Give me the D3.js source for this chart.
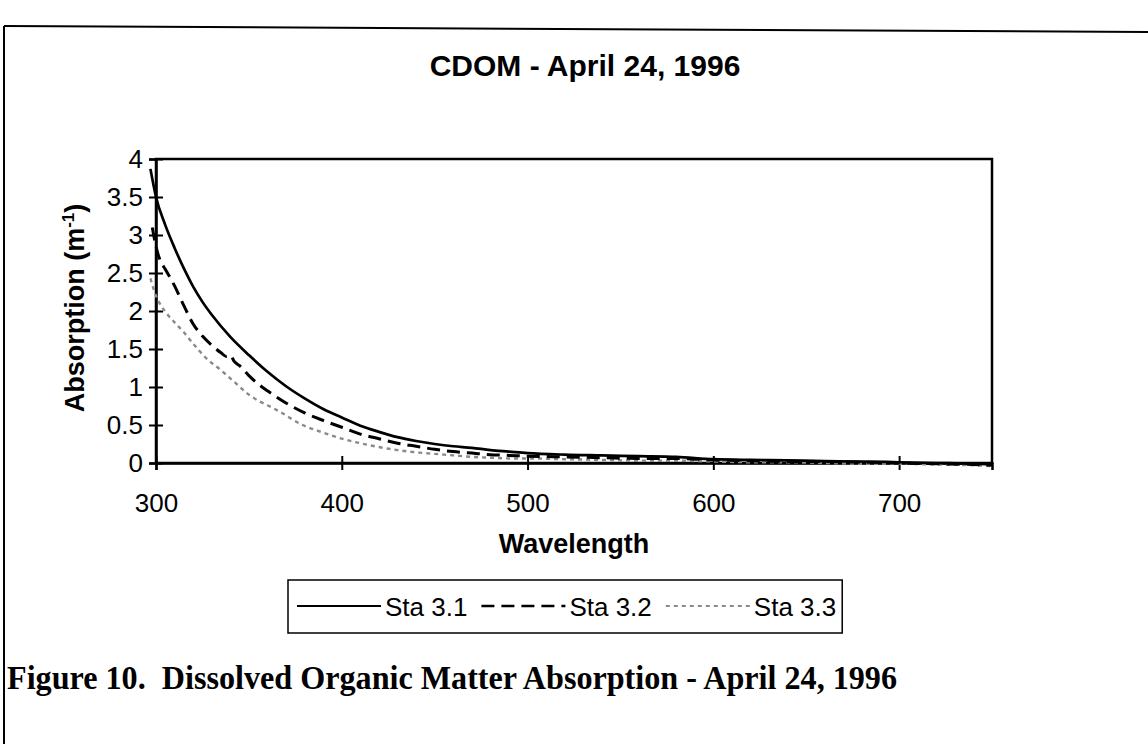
<!DOCTYPE html>
<html>
<head>
<meta charset="utf-8">
<script src="https://cdn.jsdelivr.net/npm/d3@7"></script>
<style>
  body { margin: 0; background: #fff; }
  svg { display: block; }
</style>
</head>
<body>
<div id="chart"></div>
<script>
// values
const wl1 = [297, 300, 305, 310, 315, 320, 325, 330, 340, 350, 360, 370, 380, 390, 400, 410, 420, 430, 440, 450, 460, 470, 480, 490, 500, 520, 540, 560, 580, 600, 620, 640, 660, 680, 700, 720, 740, 750]
const sta31 = [3.87, 3.50, 3.13, 2.83, 2.56, 2.32, 2.12, 1.95, 1.66, 1.42, 1.20, 1.01, 0.85, 0.71, 0.60, 0.49, 0.41, 0.34, 0.29, 0.25, 0.22, 0.20, 0.17, 0.15, 0.13, 0.11, 0.10, 0.09, 0.08, 0.05, 0.04, 0.035, 0.025, 0.02, 0.01, 0.0, -0.01, -0.02]

const wl2 = [298, 300, 302, 305, 310, 315, 320, 325, 330, 335, 338, 340, 342, 345, 350, 355, 360, 370, 380, 390, 400, 410, 420, 430, 440, 450, 460, 470, 480, 490, 500, 520, 540, 560, 580, 600, 620, 640, 660, 680, 700, 720, 740, 750]
const sta32 = [3.10, 2.85, 2.68, 2.55, 2.33, 2.07, 1.83, 1.67, 1.55, 1.45, 1.40, 1.42, 1.34, 1.28, 1.15, 1.04, 0.95, 0.79, 0.66, 0.56, 0.47, 0.38, 0.32, 0.26, 0.22, 0.18, 0.15, 0.13, 0.11, 0.10, 0.09, 0.08, 0.07, 0.06, 0.06, 0.04, 0.03, 0.02, 0.02, 0.01, 0.0, -0.01, -0.02, -0.03]

const wl3 = [297, 300, 302, 306, 310, 315, 320, 327, 335, 342, 350, 355, 360, 367, 378, 390, 400, 410, 420, 430, 440, 450, 460, 470, 480, 490, 500, 520, 540, 560, 580, 600, 620, 640, 660, 680, 700, 720, 740, 750]
const sta33 = [2.43, 2.20, 2.10, 1.96, 1.85, 1.72, 1.57, 1.38, 1.22, 1.07, 0.90, 0.82, 0.76, 0.67, 0.51, 0.40, 0.32, 0.26, 0.21, 0.17, 0.14, 0.12, 0.10, 0.08, 0.07, 0.06, 0.06, 0.05, 0.04, 0.03, 0.03, 0.02, 0.01, 0.01, 0.0, -0.01, -0.01, -0.02, -0.03, -0.04]

const seriesNames = ["Sta 3.1", "Sta 3.2", "Sta 3.3"]
const xTicks = [300, 400, 500, 600, 700]
const yTicks = [0, 0.5, 1, 1.5, 2, 2.5, 3, 3.5, 4]

const width = 1148
const height = 744
const margin = {top: 159, right: 156, bottom: 281, left: 156}
const plotW = width - margin.left - margin.right
const plotH = height - margin.top - margin.bottom

const sans = "'Liberation Sans', Arial, Helvetica, sans-serif"

const svg = d3.select("#chart").append("svg")
    .attr("width", width)
    .attr("height", height)

// page frame (only top and left edges show in the scan)
svg.append("line").attr("x1", 4).attr("y1", 26).attr("x2", width).attr("y2", 32)
    .attr("stroke", "#000").attr("stroke-width", 2)
svg.append("line").attr("x1", 4).attr("y1", 26).attr("x2", 4).attr("y2", height)
    .attr("stroke", "#000").attr("stroke-width", 2)

svg.append("text")
    .attr("x", 585).attr("y", 76)
    .attr("text-anchor", "middle")
    .style("font-family", sans).style("font-weight", "bold").style("font-size", "30px")
    .text("CDOM - April 24, 1996")

const g = svg.append("g")
    .attr("transform", "translate(" + margin.left + "," + margin.top + ")")

const x = d3.scaleLinear().domain([300, 750]).range([0, plotW])
const y = d3.scaleLinear().domain([0, 4]).range([plotH, 0])

// plot area border
g.append("rect")
    .attr("x", 0).attr("y", 0).attr("width", plotW).attr("height", plotH)
    .attr("fill", "none").attr("stroke", "#000").attr("stroke-width", 2.5)

const xAxis = g.append("g")
    .attr("transform", "translate(0," + plotH + ")")
    .call(d3.axisBottom(x).tickValues(xTicks).tickSize(7).tickPadding(24))
const yAxis = g.append("g")
    .call(d3.axisLeft(y).tickValues(yTicks).tickSize(7).tickPadding(6).tickFormat(d3.format("")))

;[xAxis, yAxis].forEach(a => {
    a.select(".domain").attr("stroke-width", 2.5)
    a.selectAll("text").style("font-family", sans).style("font-size", "26px").attr("fill", "#000")
    a.selectAll(".tick line").attr("stroke-width", 2)
})
// ticks cross the axis
xAxis.selectAll(".tick line").attr("y1", -7)
yAxis.selectAll(".tick line").attr("x1", 7)

g.append("text")
    .attr("x", plotW / 2).attr("y", 553 - margin.top)
    .attr("text-anchor", "middle")
    .style("font-family", sans).style("font-weight", "bold").style("font-size", "27px")
    .text("Wavelength")

const yTitle = svg.append("text")
    .attr("transform", "translate(84,308) rotate(-90)")
    .attr("text-anchor", "middle")
    .style("font-family", sans).style("font-weight", "bold").style("font-size", "27px")
yTitle.append("tspan").text("Absorption (m")
yTitle.append("tspan").attr("dy", -10).style("font-size", "17px").text("-1")
yTitle.append("tspan").attr("dy", 10).text(")")

const line = d3.line()
    .x(d => x(d[0]))
    .y(d => y(d[1]))
    .curve(d3.curveMonotoneX)

const styles = [
    {stroke: "#000", width: 2.7, dash: null},
    {stroke: "#000", width: 3, dash: "13,7"},
    {stroke: "#8a8a8a", width: 2.4, dash: "4,4"}
]
const series = [d3.zip(wl1, sta31), d3.zip(wl2, sta32), d3.zip(wl3, sta33)]

series.slice().reverse().forEach((s, k) => {
    const i = series.length - 1 - k
    g.append("path")
        .datum(s)
        .attr("d", line)
        .attr("fill", "none")
        .attr("stroke", styles[i].stroke)
        .attr("stroke-width", styles[i].width)
        .attr("stroke-dasharray", styles[i].dash)
})

// legend
const legend = svg.append("g").attr("transform", "translate(288,580)")
const legBox = legend.append("rect")
    .attr("height", 53).attr("fill", "#fff").attr("stroke", "#000").attr("stroke-width", 1.5)

let cx = 9
seriesNames.forEach((name, i) => {
    legend.append("line")
        .attr("x1", cx).attr("x2", cx + 84).attr("y1", 26).attr("y2", 26)
        .attr("stroke", styles[i].stroke)
        .attr("stroke-width", i === 0 ? 2 : styles[i].width - 0.5)
        .attr("stroke-dasharray", styles[i].dash)
    const t = legend.append("text")
        .attr("x", cx + 88).attr("y", 36)
        .style("font-family", sans).style("font-size", "26px")
        .text(name)
    cx += 88 + t.node().getComputedTextLength() + 14
})
legBox.attr("width", cx - 8)

svg.append("text")
    .attr("x", 7).attr("y", 689)
    .attr("textLength", 890).attr("lengthAdjust", "spacingAndGlyphs")
    .style("white-space", "pre")
    .style("font-family", "'Liberation Serif', 'Times New Roman', serif")
    .style("font-weight", "bold").style("font-size", "33px")
    .text("Figure 10.  Dissolved Organic Matter Absorption - April 24, 1996")
</script>
</body>
</html>
